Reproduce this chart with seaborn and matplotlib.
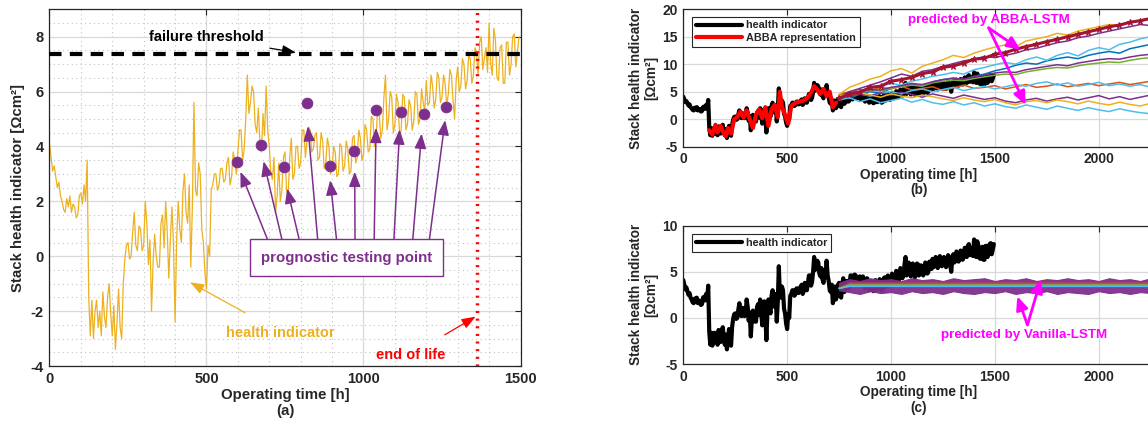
import numpy as np
import matplotlib
matplotlib.use("Agg")
import matplotlib.pyplot as plt
from matplotlib.ticker import MultipleLocator
import seaborn as sns

# health indicator, read every 5 h off panel (a)
hi_time = np.arange(0, 1500, 5)
hi_value = [
    4.1, 3.6, 3.1, 3.3, 2.9, 2.5, 2.7, 2.2, 2.0, 1.7,
    1.6, 2.1, 1.8, 2.2, 1.6, 1.9, 1.8, 1.4, 1.5, 2.2,
    2.3, 1.9, 2.6, 2.0, 3.5, -1.5, -2.9, -1.6, -3.0, -2.0,
    -1.6, -2.6, -2.0, -2.9, -1.3, -2.2, -2.6, -1.5, -1.0, -2.1,
    -2.9, -1.8, -3.4, -2.4, -1.2, -2.6, -3.0, -1.0, -0.1, 0.4,
    0.5, -0.1, 0.0, 0.9, 1.6, 0.4, 0.2, 1.1, 1.0, 0.2,
    0.4, 2.0, 1.2, -0.3, 0.6, -2.0, -0.2, 0.8, 0.0, -0.4,
    -0.4, 1.2, 1.5, 0.3, 2.0, 0.9, -0.8, 0.6, 1.8, 0.4,
    -2.4, 0.6, 2.0, 1.0, 0.5, 2.4, 3.0, 1.6, 1.2, 2.6,
    -0.4, 1.8, 5.6, 2.4, 2.2, 3.4, 3.0, 1.0, 0.5, -0.6,
    -1.2, 0.4, 0.0, 2.4, 2.6, 3.0, 3.0, 2.4, 2.6, 3.2,
    3.2, 2.7, 2.8, 3.4, 3.6, 2.6, 2.9, 3.8, 3.5, 3.0,
    3.8, 4.6, 4.6, 3.5, 3.9, 5.0, 6.6, 5.2, 5.6, 6.2,
    6.0, 4.8, 4.5, 5.4, 4.2, 3.8, 5.2, 4.4, 6.2, 4.6,
    4.0, 3.0, 2.8, 3.6, 1.6, 2.2, 3.4, 2.0, 2.4, 3.6,
    3.8, 2.4, 2.2, 3.6, 4.3, 2.8, 3.0, 4.0, 4.0, 3.2,
    3.4, 4.6, 4.6, 3.6, 4.2, 4.7, 4.6, 3.8, 3.9, 4.4,
    4.5, 3.5, 3.6, 4.5, 4.2, 3.2, 3.4, 4.3, 4.0, 3.0,
    3.2, 4.0, 3.8, 2.9, 3.0, 4.1, 4.0, 3.1, 3.3, 4.2,
    3.9, 3.0, 3.1, 4.3, 4.4, 3.4, 3.6, 4.6, 4.3, 3.5,
    3.7, 4.8, 4.6, 3.8, 3.9, 5.1, 5.0, 4.0, 4.3, 5.4,
    5.2, 4.3, 4.6, 5.8, 6.6, 4.6, 5.0, 6.0, 5.8, 4.5,
    4.8, 5.9, 5.6, 4.4, 4.6, 5.9, 5.8, 4.6, 4.8, 5.7,
    5.5, 4.6, 4.9, 6.0, 5.9, 4.8, 5.0, 6.1, 5.6, 5.3,
    6.4, 5.5, 5.6, 6.6, 6.2, 5.4, 5.7, 6.7, 6.5, 5.6,
    5.8, 6.6, 6.3, 5.5, 5.9, 6.8, 6.6, 5.7, 5.0, 6.4,
    6.9, 6.0, 6.2, 7.2, 7.0, 6.1, 6.4, 7.3, 7.2, 6.3,
    6.6, 7.6, 7.4, 6.6, 7.8, 8.0, 6.8, 7.2, 7.6, 6.7,
    8.5, 7.0, 6.6, 8.3, 7.9, 6.5, 6.4, 7.6, 7.7, 6.3,
    6.3, 7.8, 7.8, 6.6, 7.0, 8.0, 8.1, 6.9, 7.4, 8.0,
]

# prognostic testing points
test_time = [597, 673, 746, 820, 894, 969, 1040, 1118, 1193, 1264]
test_value = [3.42, 4.05, 3.26, 5.57, 3.29, 3.84, 5.33, 5.25, 5.18, 5.45]

failure_threshold = 7.38
end_of_life = 1360

# ABBA representation
abba_time = [125, 140, 155, 165, 180, 195, 205, 215, 230, 245,
             260, 275, 290, 305, 320, 335, 350, 365, 380, 395,
             410, 425, 440, 455, 465, 475, 490, 505, 520, 540,
             560, 580, 600, 615, 630, 645, 660, 675, 690, 705,
             720, 735]
abba_value = [-2.0, -2.8, -1.0, -2.4, -1.2, -2.6, -3.1, -1.6, -2.6, 0.0,
              0.4, 1.4, 0.3, 1.6, 0.0, -1.6, 0.8, 1.8, 0.2, 2.2,
              -1.2, 1.8, 2.6, 0.4, 5.0, 2.2, 0.8, -0.8, 2.4, 3.0,
              3.2, 3.4, 4.0, 4.8, 6.0, 5.4, 4.6, 5.5, 4.2, 5.0,
              2.2, 3.0]

# ABBA-LSTM predictions, every 50 h from 750 h
pred_time = np.arange(750, 2301, 50)
pred_yellow_hi = [4.5, 5.8, 6.5, 7.3, 7.8, 8.8, 9.2, 8.4, 9.6, 10.2, 10.8, 11.6, 11.2, 12.0, 12.6, 13.1,
                  13.5, 13.2, 14.2, 14.6, 15.0, 15.6, 15.3, 16.0, 16.4, 16.8, 17.2, 17.0, 17.6, 18.0, 18.3, 18.5]
pred_purple_hi = [4.2, 5.0, 5.6, 6.2, 6.8, 7.5, 8.2, 7.8, 8.7, 9.0, 9.6, 10.1, 10.6, 10.9, 11.4, 11.2,
                  11.6, 12.0, 12.6, 12.9, 13.4, 13.9, 14.2, 14.8, 15.1, 15.6, 16.0, 16.4, 16.8, 17.2, 17.0, 17.5]
pred_lblue_hi = [4.0, 4.4, 5.2, 5.5, 6.0, 6.5, 6.2, 6.9, 7.3, 7.8, 8.1, 8.5, 8.2, 9.0, 9.4, 9.9,
                 10.3, 10.0, 10.8, 11.3, 10.7, 11.6, 12.1, 11.5, 12.5, 13.0, 12.6, 13.6, 14.0, 14.6, 15.0, 14.4]
pred_blue = [4.3, 3.8, 4.6, 5.0, 4.7, 5.6, 6.0, 6.4, 6.0, 6.8, 7.2, 7.5, 7.1, 7.8, 8.2, 8.8,
             9.2, 9.8, 10.2, 10.0, 10.6, 11.0, 11.3, 11.0, 11.6, 12.0, 12.3, 12.0, 12.8, 13.2, 13.6, 13.2]
pred_green = [4.0, 4.5, 4.8, 5.2, 5.1, 5.6, 5.9, 6.2, 6.0, 6.6, 6.9, 7.1, 7.0, 7.4, 7.7, 8.0,
              8.2, 8.1, 8.6, 8.9, 9.2, 9.4, 9.3, 9.7, 10.0, 10.2, 10.4, 10.3, 10.7, 11.0, 11.2, 11.4]
pred_purple_mid = [4.1, 4.7, 5.0, 5.4, 5.3, 5.8, 6.1, 6.5, 6.3, 6.8, 7.2, 7.4, 7.3, 7.7, 8.0, 8.4,
                   8.6, 8.5, 9.0, 9.3, 9.6, 9.9, 9.7, 10.2, 10.5, 10.8, 11.0, 10.9, 11.3, 11.6, 11.8, 12.0]
pred_orange = [4.5, 5.0, 5.4, 5.2, 5.8, 5.5, 6.0, 5.3, 5.6, 5.9, 5.2, 5.7, 6.2, 5.6, 5.8, 6.1,
               5.5, 5.9, 6.3, 5.8, 6.0, 6.4, 5.9, 6.2, 6.5, 6.1, 6.4, 6.7, 6.3, 6.6, 6.9, 6.7]
pred_lblue_mid = [3.9, 4.3, 4.6, 4.2, 4.8, 5.0, 4.6, 5.2, 5.5, 5.0, 5.4, 5.8, 5.2, 5.6, 6.0, 5.5,
                  5.9, 6.3, 6.0, 6.5, 6.8, 6.2, 6.6, 6.0, 6.3, 6.7, 6.1, 6.4, 6.0, 6.3, 5.8, 6.0]
pred_purple_lo = [4.0, 4.2, 4.6, 4.3, 4.8, 4.4, 4.9, 4.5, 4.0, 4.6, 4.2, 3.8, 4.4, 4.0, 3.6, 3.9,
                  3.3, 3.0, 3.5, 3.8, 3.3, 3.7, 4.0, 3.5, 3.9, 4.3, 3.7, 4.1, 3.6, 4.0, 4.4, 4.1]
pred_yellow_lo = [4.3, 4.5, 4.8, 4.4, 4.0, 4.6, 4.2, 3.9, 4.4, 4.1, 3.7, 3.4, 3.9, 3.5, 3.2, 3.6,
                  3.0, 2.6, 3.2, 3.4, 3.0, 3.5, 3.2, 2.8, 3.3, 2.9, 2.6, 3.1, 2.7, 2.4, 2.9, 2.5]
pred_lblue_lo = [3.5, 3.9, 3.2, 3.7, 3.0, 3.4, 3.8, 3.1, 3.6, 3.0, 2.7, 3.2, 2.6, 3.0, 2.4, 2.8,
                 2.3, 2.0, 2.6, 2.2, 1.8, 2.4, 2.0, 1.6, 2.1, 1.7, 1.4, 1.9, 1.5, 1.2, 1.0, 1.3]
pred_darkred = [3.8, 4.6, 4.9, 5.8, 6.0, 6.9, 7.2, 7.6, 8.3, 8.6, 9.4, 9.7, 10.2, 10.9, 11.1, 11.8,
                12.1, 12.7, 13.2, 13.6, 14.1, 14.5, 15.0, 15.4, 15.9, 16.3, 16.8, 17.1, 17.6, 17.9, 18.3, 18.6]

# Vanilla-LSTM predictions: noisy purple band plus flat lines
band_upper = [3.8, 4.2, 4.0, 4.3, 4.1, 4.2, 4.0, 4.3, 4.1, 4.2, 4.0, 4.3, 4.1, 4.2, 4.3, 4.0,
              4.2, 4.1, 4.3, 4.0, 4.2, 4.1, 4.3, 4.1, 4.2, 4.0, 4.3, 4.1, 4.2, 4.0, 4.3, 4.1]
band_lower = [3.0, 2.8, 2.6, 2.9, 2.7, 2.8, 2.6, 2.9, 2.7, 2.8, 2.6, 2.9, 2.7, 2.6, 2.8, 2.7,
              2.9, 2.6, 2.8, 2.7, 2.9, 2.6, 2.8, 2.7, 2.6, 2.9, 2.7, 2.8, 2.6, 2.8, 2.7, 2.9]
flat_time = [750, 800, 2300]
flat_orange = [3.2, 3.75, 3.75]
flat_blue = [3.2, 3.62, 3.62]
flat_yellow = [3.2, 3.55, 3.55]
flat_green = [3.2, 3.48, 3.48]
flat_lblue = [3.2, 3.42, 3.42]

BLUE, ORANGE, YELLOW, PURPLE = "#0072BD", "#D95319", "#EDB120", "#7E2F8E"
GREEN, LBLUE, DARKRED, MAGENTA = "#77AC30", "#4DBEEE", "#A2142F", "#FF00FF"

sns.set_style("white")
plt.rcParams["font.family"] = ["Liberation Sans", "DejaVu Sans"]
plt.rcParams["font.weight"] = "bold"
plt.rcParams["axes.labelweight"] = "bold"
plt.rcParams["axes.unicode_minus"] = False

fig = plt.figure(figsize=(11.48, 4.33), dpi=100)
ax_a = fig.add_axes([0.0431, 0.1547, 0.4103, 0.8240])
ax_b = fig.add_axes([0.5952, 0.661, 0.4100, 0.318])
ax_c = fig.add_axes([0.5952, 0.159, 0.4100, 0.320])


def style_axes(ax, minor=False):
    for s in ax.spines.values():
        s.set_color("#262626")
        s.set_linewidth(0.9)
        s.set_visible(True)
    ax.tick_params(direction="in", top=True, right=True, length=4, width=0.8,
                   labelsize=10.5, colors="#262626", pad=4)
    ax.grid(True, which="major", color="#d9d9d9", lw=0.9)
    if minor:
        ax.grid(True, which="minor", color="#c4c4c4", lw=0.8, ls=(0, (1, 3)))
        ax.tick_params(which="minor", length=0)
    ax.set_axisbelow(True)
    for lbl in ax.get_xticklabels() + ax.get_yticklabels():
        lbl.set_fontweight("bold")


# ---------- panel (a) ----------
sns.lineplot(x=hi_time, y=hi_value, ax=ax_a, color=YELLOW, lw=0.9, estimator=None, sort=False)
ax_a.axhline(failure_threshold, color="black", lw=3, ls=(0, (3, 2)), zorder=3)
ax_a.axvline(end_of_life, color="red", lw=2.5, ls=(0, (0.6, 1.6)), zorder=3)
sns.scatterplot(x=test_time, y=test_value, ax=ax_a, color=PURPLE, s=60, marker="o",
                edgecolor=PURPLE, zorder=4)
ax_a.set_xlim(0, 1500)
ax_a.set_ylim(-4, 9)
ax_a.xaxis.set_major_locator(MultipleLocator(500))
ax_a.xaxis.set_minor_locator(MultipleLocator(100))
ax_a.yaxis.set_major_locator(MultipleLocator(2))
ax_a.yaxis.set_minor_locator(MultipleLocator(0.5))
ax_a.set_xlabel("Operating time [h]\n(a)", fontsize=10.8, labelpad=2, linespacing=1.15)
ax_a.set_ylabel("Stack health indicator [Ωcm²]", fontsize=10.8, labelpad=4)
style_axes(ax_a, minor=True)

arrow_tail_t = [694, 740, 795, 854, 914, 973, 1034, 1097, 1157, 1210]
arrow_head_t = [608, 682, 757, 823, 894, 972, 1040, 1115, 1185, 1260]
arrow_head_v = [3.08, 3.46, 2.47, 4.74, 2.77, 3.08, 4.68, 4.62, 4.47, 4.96]
for tt, ht, hv in zip(arrow_tail_t, arrow_head_t, arrow_head_v):
    ax_a.annotate("", xy=(ht, hv), xytext=(tt, 0.62),
                  arrowprops=dict(arrowstyle="-|>,head_length=0.9,head_width=0.35",
                                  color=PURPLE, lw=1.1, shrinkA=0, shrinkB=0), zorder=5)
ax_a.text(946, -0.05, "prognostic testing point", color=PURPLE, fontsize=10.8,
          fontweight="bold", ha="center", va="center",
          bbox=dict(boxstyle="square,pad=0.75", fc="white", ec=PURPLE, lw=1.0), zorder=6)

ax_a.annotate("failure threshold", xy=(785, 7.42), xytext=(500, 7.97),
              fontsize=10.5, fontweight="bold", ha="center", va="center", color="black",
              arrowprops=dict(arrowstyle="-|>,head_length=0.8,head_width=0.3", color="black",
                              lw=0.9, shrinkA=2, shrinkB=0), zorder=6)
ax_a.annotate("health indicator", xy=(448, -0.95), xytext=(736, -2.78),
              fontsize=10.5, fontweight="bold", ha="center", va="center", color=YELLOW,
              arrowprops=dict(arrowstyle="-|>,head_length=0.8,head_width=0.3", color=YELLOW,
                              lw=0.9, shrinkA=14, shrinkB=0), zorder=6)
ax_a.annotate("end of life", xy=(1357, -2.2), xytext=(1150, -3.6),
              fontsize=10.5, fontweight="bold", ha="center", va="center", color="red",
              arrowprops=dict(arrowstyle="-|>,head_length=0.8,head_width=0.3", color="red",
                              lw=0.9, shrinkA=14, shrinkB=0), zorder=6)

# ---------- panel (b) ----------
sns.lineplot(x=hi_time, y=hi_value, ax=ax_b, color="black", lw=3.0, estimator=None,
             sort=False, label="health indicator")
sns.lineplot(x=abba_time, y=abba_value, ax=ax_b, color="red", lw=3.0, estimator=None,
             sort=False, label="ABBA representation")
pred_lines = [
    (pred_blue, BLUE), (pred_orange, ORANGE), (pred_yellow_hi, YELLOW), (pred_purple_hi, PURPLE),
    (pred_green, GREEN), (pred_lblue_hi, LBLUE), (pred_purple_mid, PURPLE), (pred_lblue_mid, LBLUE),
    (pred_purple_lo, PURPLE), (pred_yellow_lo, YELLOW), (pred_lblue_lo, LBLUE),
]
for vals, col in pred_lines:
    sns.lineplot(x=pred_time, y=vals, ax=ax_b, color=col, lw=1.1, estimator=None, sort=False,
                 legend=False)
sns.lineplot(x=pred_time, y=pred_darkred, ax=ax_b, color=DARKRED, lw=2.2, marker="*",
             markersize=5, markeredgecolor=DARKRED, estimator=None, sort=False, legend=False)
ax_b.set_xlim(0, 2266)
ax_b.set_ylim(-5, 20)
ax_b.xaxis.set_major_locator(MultipleLocator(500))
ax_b.yaxis.set_major_locator(MultipleLocator(5))
ax_b.set_xlabel("Operating time [h]\n(b)", fontsize=9.8, labelpad=1, linespacing=1.15)
ax_b.set_ylabel("Stack health indicator\n[Ωcm²]", fontsize=9.8, labelpad=3, linespacing=1.1)
style_axes(ax_b)
ax_b.tick_params(labelsize=10)
leg = ax_b.legend(handles=ax_b.lines[:2], labels=["health indicator", "ABBA representation"],
                  loc="upper left", bbox_to_anchor=(0.008, 0.985), fontsize=7.8, handlelength=4.2,
                  handletextpad=0.4, borderpad=0.35, labelspacing=0.25, frameon=True,
                  fancybox=False, edgecolor="#262626", framealpha=1)
leg.get_frame().set_linewidth(0.8)
ax_b.text(1472, 18.1, "predicted by ABBA-LSTM", color=MAGENTA, fontsize=9.6,
          fontweight="bold", ha="center", va="center")
for head in [(1624, 12.6), (1648, 2.6)]:
    ax_b.annotate("", xy=head, xytext=(1470, 16.6),
                  arrowprops=dict(arrowstyle="-|>,head_length=0.8,head_width=0.35",
                                  color=MAGENTA, lw=2.0, shrinkA=0, shrinkB=0), zorder=6)

# ---------- panel (c) ----------
sns.lineplot(x=hi_time, y=hi_value, ax=ax_c, color="black", lw=3.0, estimator=None,
             sort=False, label="health indicator")
ax_c.fill_between(pred_time, band_lower, band_upper, color=PURPLE, lw=0.8, alpha=0.95, zorder=3)
for vals, col in [(flat_orange, ORANGE), (flat_blue, BLUE), (flat_yellow, YELLOW),
                  (flat_green, GREEN), (flat_lblue, LBLUE)]:
    sns.lineplot(x=flat_time, y=vals, ax=ax_c, color=col, lw=1.1, estimator=None, sort=False,
                 legend=False, zorder=4)
ax_c.set_xlim(0, 2266)
ax_c.set_ylim(-5, 10)
ax_c.xaxis.set_major_locator(MultipleLocator(500))
ax_c.yaxis.set_major_locator(MultipleLocator(5))
ax_c.set_xlabel("Operating time [h]\n(c)", fontsize=9.8, labelpad=1, linespacing=1.15)
ax_c.set_ylabel("Stack health indicator\n[Ωcm²]", fontsize=9.8, labelpad=3, linespacing=1.1)
style_axes(ax_c)
ax_c.tick_params(labelsize=10)
leg = ax_c.legend(handles=ax_c.lines[:1], labels=["health indicator"], loc="upper left",
                  bbox_to_anchor=(0.008, 0.975), fontsize=7.8, handlelength=4.2,
                  handletextpad=0.4, borderpad=0.35, frameon=True, fancybox=False,
                  edgecolor="#262626", framealpha=1)
leg.get_frame().set_linewidth(0.8)
ax_c.text(1640, -1.85, "predicted by Vanilla-LSTM", color=MAGENTA, fontsize=9.6,
          fontweight="bold", ha="center", va="center")
for head in [(1608, 2.35), (1722, 4.2)]:
    ax_c.annotate("", xy=head, xytext=(1657, -0.75),
                  arrowprops=dict(arrowstyle="-|>,head_length=0.8,head_width=0.35",
                                  color=MAGENTA, lw=2.0, shrinkA=0, shrinkB=0), zorder=6)

fig.savefig("out.png", dpi=100)
